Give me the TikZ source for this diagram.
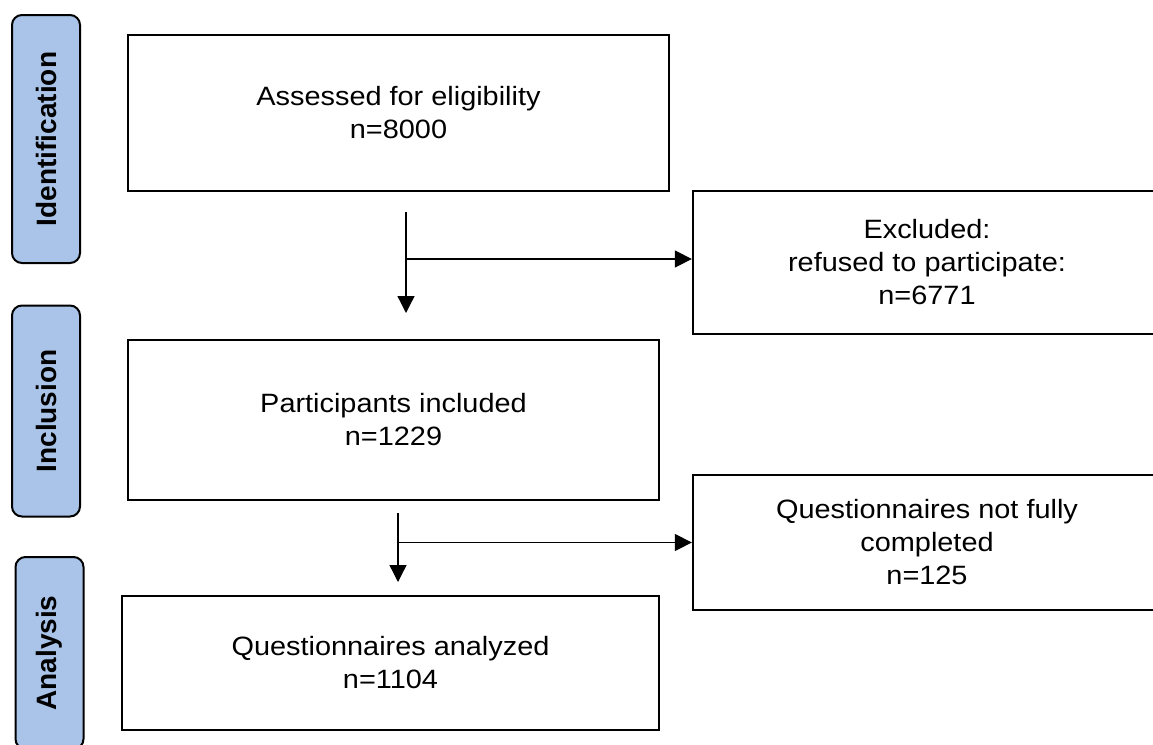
\documentclass[tikz,border=0pt]{standalone}
\usepackage{fontspec}
\setmainfont{Liberation Sans}[FakeStretch=1.09]
\newfontfamily\sidefont{Liberation Sans}
\usetikzlibrary{arrows.meta}
\definecolor{sideblue}{RGB}{169,196,232}
\begin{document}
\begin{tikzpicture}[x=1pt,y=-1pt,
  mainbox/.style={draw=black, line width=2.3pt, rectangle, align=center,
    font=\fontsize{26.5}{33}\selectfont, inner sep=0pt},
  sidebox/.style={draw=black, line width=2pt, fill=sideblue, rounded corners=10pt,
    rotate=90, minimum height=68pt, inner sep=0pt,
    font=\sidefont\bfseries\fontsize{28}{33}\selectfont},
  flow/.style={line width=1.3pt, -{Triangle[length=17pt,width=17pt]}},
  branch/.style={line width=1.3pt, -{Triangle[length=17pt,width=17pt]}}]
\useasboundingbox (0,0) rectangle (1153,744);
\clip (0,0) rectangle (1153,744);

% phase labels
\node[sidebox, minimum width=248pt] (ident) at (46,139) {Identification};
\node[sidebox, minimum width=211pt] (incl) at (46,411) {Inclusion};
\node[sidebox, minimum width=192pt] (anal) at (49.5,653) {Analysis};

% main boxes
\node[mainbox, minimum width=541pt, minimum height=156pt] (assess) at (398.5,113)
  {Assessed for eligibility\\n=8000};
\node[mainbox, minimum width=468pt, minimum height=143pt] (excl) at (927,262.5)
  {Excluded:\\refused to participate:\\n=6771};
\node[mainbox, minimum width=531pt, minimum height=160pt] (incbox) at (393.5,420)
  {Participants included\\n=1229};
\node[mainbox, minimum width=468pt, minimum height=135pt] (notfull) at (927,542.5)
  {Questionnaires not fully\\completed\\n=125};
\node[mainbox, minimum width=537pt, minimum height=134pt] (analbox) at (390.5,663)
  {Questionnaires analyzed\\n=1104};

% connectors
\coordinate (s1) at (406,212);
\coordinate (e1) at (406,313);
\coordinate (j1) at (406,259);
\draw[flow] (s1) -- (e1);
\draw[branch] (j1) -- (j1 -| excl.west);

\coordinate (s2) at (398,513);
\coordinate (e2) at (398,582);
\coordinate (j2) at (398,542.5);
\draw[flow] (s2) -- (e2);
\draw[branch] (j2) -- (notfull.west);
\end{tikzpicture}
\end{document}
